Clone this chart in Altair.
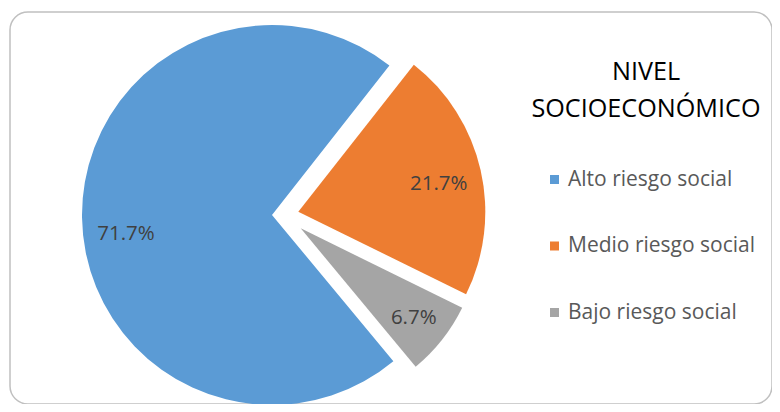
import math
import altair as alt
import pandas as pd

# ---- data ----
categories = ["Alto riesgo social", "Medio riesgo social", "Bajo riesgo social"]
values = [71.7, 21.7, 6.7]
labels = ["71.7%", "21.7%", "6.7%"]
title_lines = ["NIVEL", "SOCIOECONÓMICO"]

# ---- styles ----
colors = ["#5B9BD5", "#ED7D31", "#A5A5A5"]
# exploded-slice shift (px) and outer radius per slice
explode_shift = {"Alto riesgo social": (0, 0), "Medio riesgo social": (26.3, -3.3), "Bajo riesgo social": (28.7, 13.3)}
slice_radius = {"Alto riesgo social": 190, "Medio riesgo social": 187, "Bajo riesgo social": 180}
label_nudge = {"Alto riesgo social": (-2, 17), "Medio riesgo social": (0, 4), "Bajo riesgo social": (0, 1)}
FONT = "Open Sans"
START_DEG = 140.3
CX, CY = 262, 203
LABEL_R = 144

df = pd.DataFrame({"cat": categories, "val": values, "label": labels, "order": list(range(len(categories)))})
total = sum(values)
start = math.radians(START_DEG)
theta_scale = alt.Scale(domain=[0, total], range=[start, start + 2 * math.pi])
color_scale = alt.Scale(domain=categories, range=colors)

base = (
    alt.Chart(df)
    .transform_window(cum_end="sum(val)", sort=[alt.SortField("order")], frame=[None, 0])
    .transform_calculate(cum_start="datum.cum_end - datum.val",
                         mid="datum.cum_end - datum.val / 2")
)

layers = []
for i, c in enumerate(categories):
    dx, dy = explode_shift[c]
    sub = base.transform_filter(alt.datum.cat == c)
    arc = sub.mark_arc(outerRadius=slice_radius[c], xOffset=dx, yOffset=dy, stroke=None).encode(
        x=alt.value(CX), y=alt.value(CY),
        theta=alt.Theta("cum_start:Q", scale=theta_scale),
        theta2="cum_end:Q",
        color=alt.Color(
            "cat:N", scale=color_scale, sort=categories,
            legend=alt.Legend(
                orient="none", legendX=534, legendY=157, title=None,
                symbolType="square", symbolSize=81, symbolStrokeWidth=0,
                labelFont=FONT, labelFontSize=21, labelColor="#595959",
                rowPadding=44.5, labelOffset=3, labelLimit=400,
            ) if i == 0 else None,
        ),
    )
    ndx, ndy = label_nudge[c]
    txt = sub.mark_text(font=FONT, fontSize=20.5, color="#404040",
                        xOffset=dx + ndx, yOffset=dy + ndy,
                        align="center", baseline="middle").encode(
        x=alt.value(CX), y=alt.value(CY),
        theta=alt.Theta("mid:Q", scale=theta_scale),
        radius=alt.value(LABEL_R),
        text="label:N",
    )
    layers += [arc, txt]

chart = (
    alt.layer(*layers)
    .properties(
        width=762, height=392,
        autosize=alt.AutoSizeParams(type="none"),
        padding={"left": 2, "top": 4, "right": 0, "bottom": 0},
        title=alt.TitleParams(
            text=title_lines, anchor="start", align="center", orient="top",
            frame="group", dx=636, dy=130, baseline="alphabetic", offset=0,
            font=FONT, fontSize=25.2, fontWeight="normal", color="#000000",
            lineHeight=36.5,
        ),
    )
    .configure_view(stroke="#c0c0c0", strokeWidth=1.5, cornerRadius=18)
)

chart.save("out.html", embed_options={"renderer": "svg", "actions": False})
